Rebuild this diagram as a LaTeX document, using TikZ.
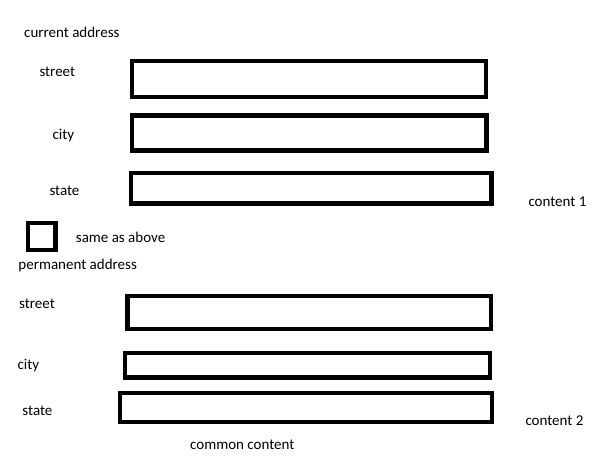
\documentclass[tikz,border=0pt]{standalone}
\usepackage{fontspec}
\setmainfont{Carlito}
\tikzset{
  lbl/.style={anchor=base west,inner sep=0pt,font=\fontsize{15}{18}\selectfont},
  field/.style={draw,line width=4.4pt,inner sep=0pt}
}

\begin{document}
\begin{tikzpicture}[x=1pt,y=-1pt]
    \useasboundingbox (0,0) rectangle (614,460);

    % current address
    \node[lbl] (curaddr) at (24,37.7) {current address};
    \node[lbl] (street1) at (39.3,76.7) {street};
    \node[lbl] (city1) at (52.3,139.3) {city};
    \node[lbl] (state1) at (49.3,195) {state};
    \node[lbl] (content1) at (528.3,206.7) {content 1};

    \node[field,minimum width=354,minimum height=36] (streetbox1) at (309,79) {};
    \node[field,minimum width=354.5,minimum height=35] (citybox1) at (309.2,133) {};
    \node[field,minimum width=360.5,minimum height=30.5] (statebox1) at (311.2,188.2) {};

    % checkbox
    \node[field,line width=4.6pt,minimum width=27.5,minimum height=27] (same) at (41.7,236.5) {};
    \node[lbl] (sameabove) at (75.7,242.7) {same as above};

    % permanent address
    \node[lbl] (permaddr) at (18.3,269.3) {permanent address};
    \node[lbl] (street2) at (19,308.3) {street};
    \node[lbl] (city2) at (17.3,369) {city};
    \node[lbl] (state2) at (22.3,415.7) {state};
    \node[lbl] (content2) at (525.3,425) {content 2};

    \node[field,minimum width=363.5,minimum height=33] (streetbox2) at (309.2,312.5) {};
    \node[field,minimum width=365,minimum height=24.5] (citybox2) at (307.5,365.3) {};
    \node[field,minimum width=372,minimum height=29] (statebox2) at (306,407.5) {};

    \node[lbl] (common) at (190,449.3) {common content};
\end{tikzpicture}
\end{document}
